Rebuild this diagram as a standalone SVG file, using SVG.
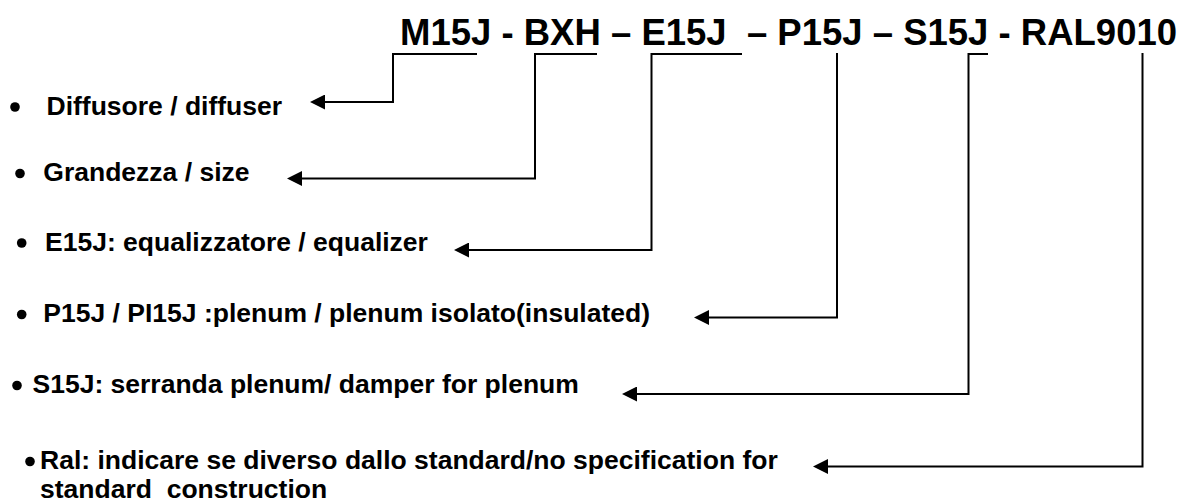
<svg xmlns="http://www.w3.org/2000/svg" width="1195" height="502" viewBox="0 0 1195 502">
  <style>
    text { font-family: "Liberation Sans", Arial, sans-serif; font-weight: bold; fill: #000; white-space: pre; }
    .title { font-size: 36.5px; }
    .lbl { font-size: 26.5px; }
    .bullet { fill: #000; }
    .conn { fill: none; stroke: #000; stroke-width: 2; stroke-linejoin: miter; }
    .arr { marker-end: url(#ah); }
  </style>
  <defs>
    <marker id="ah" markerUnits="userSpaceOnUse" viewBox="0 0 15 15" markerWidth="15" markerHeight="15" refX="7" refY="7.5" orient="auto">
      <path d="M0,0 L15,7.5 L0,15 z" fill="#000"/>
    </marker>
  </defs>
  <rect width="1195" height="502" fill="#fff"/>

  <g id="code">
    <text class="title" x="400" y="45" xml:space="preserve">M15J - BXH – E15J  – P15J – S15J - RAL9010</text>
  </g>

  <g id="item-diffusore">
    <circle class="bullet" cx="15" cy="107" r="4.8"/>
    <text class="lbl" x="46.5" y="115">Diffusore / diffuser</text>
  </g>
  <g id="item-grandezza">
    <circle class="bullet" cx="20" cy="173.5" r="4.8"/>
    <text class="lbl" x="43.3" y="181">Grandezza / size</text>
  </g>
  <g id="item-e15j">
    <circle class="bullet" cx="21.7" cy="243" r="4.8"/>
    <text class="lbl" x="45" y="250.5">E15J: equalizzatore / equalizer</text>
  </g>
  <g id="item-p15j">
    <circle class="bullet" cx="21.7" cy="314.5" r="4.8"/>
    <text class="lbl" x="43.3" y="322">P15J / PI15J :plenum / plenum isolato(insulated)</text>
  </g>
  <g id="item-s15j">
    <circle class="bullet" cx="17" cy="385.5" r="4.8"/>
    <text class="lbl" x="32.5" y="393">S15J: serranda plenum/ damper for plenum</text>
  </g>
  <g id="item-ral">
    <circle class="bullet" cx="30" cy="461.5" r="4.8"/>
    <text class="lbl" x="40" y="469">Ral: indicare se diverso dallo standard/no specification for</text>
    <text class="lbl" x="40" y="497.5" xml:space="preserve">standard  construction</text>
  </g>

  <g id="connectors">
    <path class="conn arr" d="M477,54 H393 V102 H318"/>
    <path class="conn arr" d="M597,54 H535 V178.5 H295"/>
    <path class="conn arr" d="M742,54 H651.5 V250 H462"/>
    <path class="conn arr" d="M837,53 V317.5 H702"/>
    <path class="conn arr" d="M988,54 H968.5 V394 H630"/>
    <path class="conn arr" d="M1142.5,53 V466.5 H821"/>
  </g>
</svg>
